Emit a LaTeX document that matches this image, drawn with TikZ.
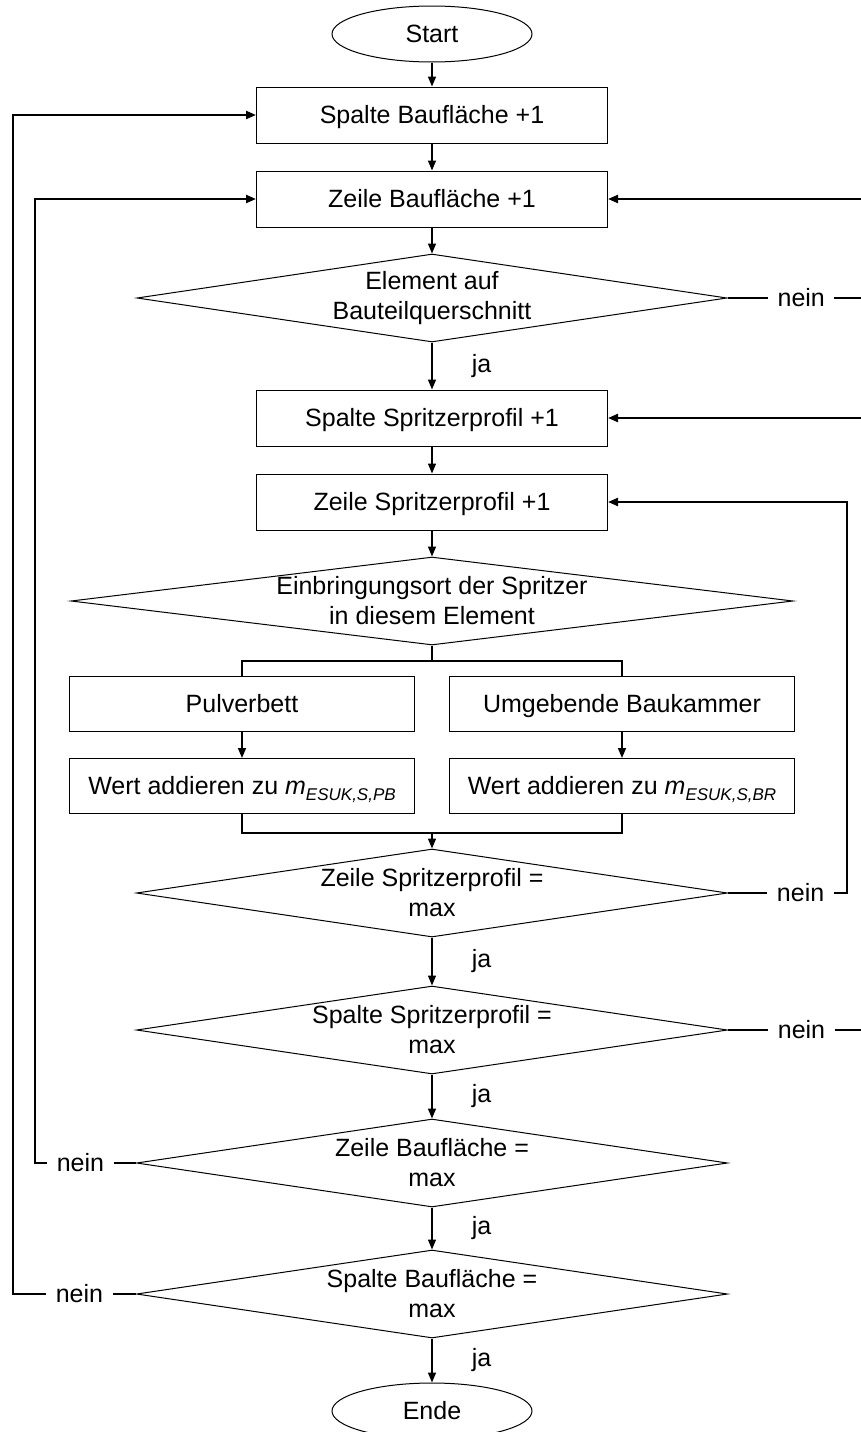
\documentclass[tikz,border=0pt]{standalone}
\usepackage{fontspec}
\setmainfont{Liberation Sans}
\usetikzlibrary{shapes.geometric,arrows.meta}
% italic mass symbol with a lowered italic index
\newcommand\massidx[1]{\textit{m}\raisebox{-6pt}{\fontsize{17}{17}\selectfont\itshape #1}}
\begin{document}
\begin{tikzpicture}[x=1pt,y=-1pt,
  font=\fontsize{25}{30}\selectfont,
  box/.style={draw, line width=1pt, minimum width=351pt, minimum height=56pt, inner sep=0pt, text height=20pt, text depth=4pt},
  sbox/.style={draw, line width=1pt, minimum width=345pt, minimum height=55pt, inner sep=0pt, text height=20pt, text depth=4pt},
  term/.style={draw, ellipse, line width=1pt, minimum width=200pt, minimum height=56pt, inner sep=0pt, text height=20pt, text depth=4pt},
  dec/.style={draw, diamond, line width=1pt, inner sep=0pt, minimum height=88pt},
  dtext/.style={align=center, inner sep=0pt},
  flow/.style={line width=1.6pt, -{Triangle[length=10pt,width=8pt]}},
  plain/.style={line width=1.6pt},
  back/.style={line width=2.2pt, -{Triangle[length=10pt,width=8pt]}},
  neinlbl/.style={fill=white, inner xsep=9.5pt, inner ysep=0pt},
  jalbl/.style={right, inner sep=0pt, xshift=39pt},
]
\useasboundingbox (0,0) rectangle (861,1432);
\clip (0,0) rectangle (861,1432);
\fill[white] (0,0) rectangle (861,1432);

% main column
\node[term] (start) at (432,34) {Start};
\node[box] (sbf) at (432,115) {Spalte Baufläche +1};
\node[box] (zbf) at (432,199) {Zeile Baufläche +1};
\node[dec, minimum width=590pt] (d1) at (432,298) {};
\node[dtext] (t1) at (d1) {Element auf\\Bauteilquerschnitt};
\node[box] (sps) at (432,418) {Spalte Spritzerprofil +1};
\node[box] (zes) at (432,502) {Zeile Spritzerprofil +1};
\node[dec, minimum width=722pt] (d2) at (432,601) {};
\node[dtext] (t2) at (d2) {Einbringungsort der Spritzer\\in diesem Element};

% two branches
\node[sbox] (pb) at (242,704) {Pulverbett};
\node[sbox] (bk) at (622,704) {Umgebende Baukammer};
\node[sbox] (wpb) at (242,786) {Wert addieren zu \massidx{ESUK,S,PB}};
\node[sbox] (wbr) at (622,786) {Wert addieren zu \massidx{ESUK,S,BR}};

% end conditions
\node[dec, minimum width=591pt] (d3) at (432,893) {};
\node[dtext] (t3) at (d3) {Zeile Spritzerprofil =\\max};
\node[dec, minimum width=591pt] (d4) at (432,1030) {};
\node[dtext] (t4) at (d4) {Spalte Spritzerprofil =\\max};
\node[dec, minimum width=591pt] (d5) at (432,1163) {};
\node[dtext] (t5) at (d5) {Zeile Baufläche =\\max};
\node[dec, minimum width=591pt] (d6) at (432,1294) {};
\node[dtext] (t6) at (d6) {Spalte Baufläche =\\max};
\node[term] (ende) at (432,1411) {Ende};

\coordinate (split) at (432,661);
\coordinate (join) at (432,833);
\coordinate (rOuter) at (875,0);
\coordinate (rInner) at (847,0);
\coordinate (lInner) at (35,0);
\coordinate (lOuter) at (13,0);

% forward flow
\draw[flow] (start) -- (sbf);
\draw[flow] (sbf) -- (zbf);
\draw[flow] (zbf) -- (d1);
\draw[flow] (d1) -- node[jalbl]{ja} (sps);
\draw[flow] (sps) -- (zes);
\draw[flow] (zes) -- (d2);
\draw[plain] (d2.south) -- (split);
\draw[plain] (pb.north) |- (split) -| (bk.north);
\draw[flow] (pb) -- (wpb);
\draw[flow] (bk) -- (wbr);
\draw[plain] (wpb.south) |- (join) -| (wbr.south);
\draw[flow] (join) -- (d3);
\draw[flow] (d3) -- node[jalbl]{ja} (d4);
\draw[flow] (d4) -- node[jalbl]{ja} (d5);
\draw[flow] (d5) -- node[jalbl]{ja} (d6);
\draw[flow] (d6) -- node[jalbl]{ja} (ende);

% loops back
\draw[back] (d1.east) -- node[neinlbl, pos=0.5]{nein} (d1.east -| rOuter) |- (zbf.east);
\draw[back] (d3.east) -- node[neinlbl, pos=0.61]{nein} (d3.east -| rInner) |- (zes.east);
\draw[back] (d4.east) -- node[neinlbl, pos=0.5]{nein} (d4.east -| rOuter) |- (sps.east);
\draw[back] (d5.west) -- node[neinlbl, pos=0.55]{nein} (d5.west -| lInner) |- (zbf.west);
\draw[back] (d6.west) -- node[neinlbl, pos=0.46]{nein} (d6.west -| lOuter) |- (sbf.west);
\end{tikzpicture}
\end{document}
